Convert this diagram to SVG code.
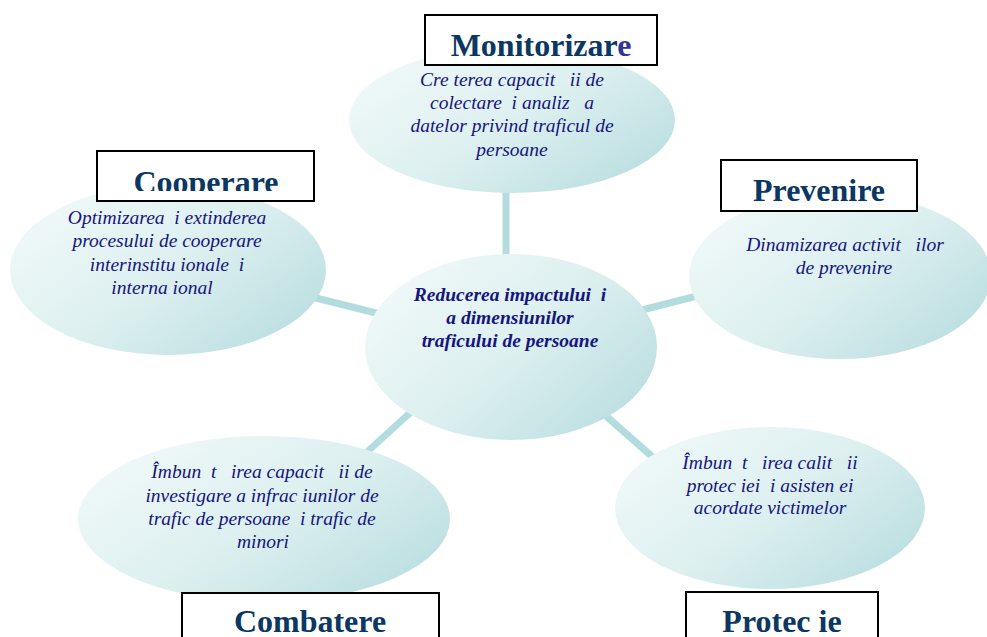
<svg xmlns="http://www.w3.org/2000/svg" width="987" height="637" viewBox="0 0 987 637">
<defs>
<linearGradient id="g" x1="0" y1="0.2" x2="1" y2="0.9">
<stop offset="0" stop-color="#f1f9f9"/>
<stop offset="0.5" stop-color="#dcefef"/>
<stop offset="1" stop-color="#b6dcdf"/>
</linearGradient>
<clipPath id="clipCoop"><rect x="97" y="151" width="217" height="40"/></clipPath>
<style>
.ell{fill:url(#g);stroke:none}
.box{fill:#fff;stroke:#000;stroke-width:2}
.title{font-family:"Liberation Serif","Times New Roman",serif;font-weight:bold;font-size:32px;fill:#0b3763;text-anchor:middle}
.t{font-family:"Liberation Serif","Times New Roman",serif;font-style:italic;font-size:19.5px;fill:#15157f;text-anchor:middle;white-space:pre}
.c{font-weight:bold}
.con line{stroke:#b3dcdf;stroke-width:7}
</style>
</defs>
<rect width="987" height="637" fill="#fff"/>
<g id="connectors" class="con">
<line x1="506" y1="190" x2="506" y2="258"/>
<line x1="312" y1="297" x2="380" y2="314"/>
<line x1="642" y1="310" x2="697" y2="296"/>
<line x1="367" y1="452" x2="412" y2="411"/>
<line x1="606" y1="416" x2="656" y2="460"/>
</g>
<g id="center">
<ellipse class="ell" cx="511" cy="347" rx="146" ry="93"/>
<text class="t c" x="510" y="301">Reducerea impactului  i</text>
<text class="t c" x="510" y="324">a dimensiunilor</text>
<text class="t c" x="510" y="347">traficului de persoane</text>
</g>
<g id="monitorizare">
<ellipse class="ell" cx="512" cy="120" rx="163" ry="73"/>
<rect class="box" x="425" y="15" width="232" height="50"/>
<text class="title" x="541" y="56">Monitorizar<tspan fill="#333399">e</tspan></text>
<text class="t" x="512" y="86">Cre terea capacit   ii de</text>
<text class="t" x="512" y="109">colectare  i analiz   a</text>
<text class="t" x="512" y="132">datelor privind traficul de</text>
<text class="t" x="512" y="156">persoane</text>
</g>
<g id="cooperare">
<ellipse class="ell" cx="168" cy="270" rx="158" ry="85"/>
<rect class="box" x="97" y="151" width="217" height="50"/>
<text class="title" x="206" y="193" clip-path="url(#clipCoop)">Cooperare</text>
<text class="t" x="167" y="224">Optimizarea  i extinderea</text>
<text class="t" x="167" y="247">procesului de cooperare</text>
<text class="t" x="167" y="271">interinstitu ionale  i</text>
<text class="t" x="162" y="294">interna ional</text>
</g>
<g id="prevenire">
<ellipse class="ell" cx="840" cy="276" rx="151" ry="83"/>
<rect class="box" x="721" y="160" width="196" height="51"/>
<text class="title" x="819" y="201">Prevenire</text>
<text class="t" x="845" y="251">Dinamizarea activit   ilor</text>
<text class="t" x="844" y="274">de prevenire</text>
</g>
<g id="combatere">
<ellipse class="ell" cx="264" cy="519" rx="186" ry="83"/>
<rect class="box" x="182" y="593" width="257" height="50"/>
<text class="title" x="310" y="632">Combatere</text>
<text class="t" x="262" y="478">Îmbun  t   irea capacit   ii de</text>
<text class="t" x="262" y="502">investigare a infrac iunilor de</text>
<text class="t" x="262" y="525">trafic de persoane  i trafic de</text>
<text class="t" x="263" y="548">minori</text>
</g>
<g id="protectie">
<ellipse class="ell" cx="770" cy="508" rx="155" ry="81"/>
<rect class="box" x="686" y="592" width="192" height="50"/>
<text class="title" x="782" y="632">Protec ie</text>
<text class="t" x="770" y="469">Îmbun  t   irea calit   ii</text>
<text class="t" x="770" y="492">protec iei  i asisten ei</text>
<text class="t" x="770" y="514">acordate victimelor</text>
</g>
</svg>
